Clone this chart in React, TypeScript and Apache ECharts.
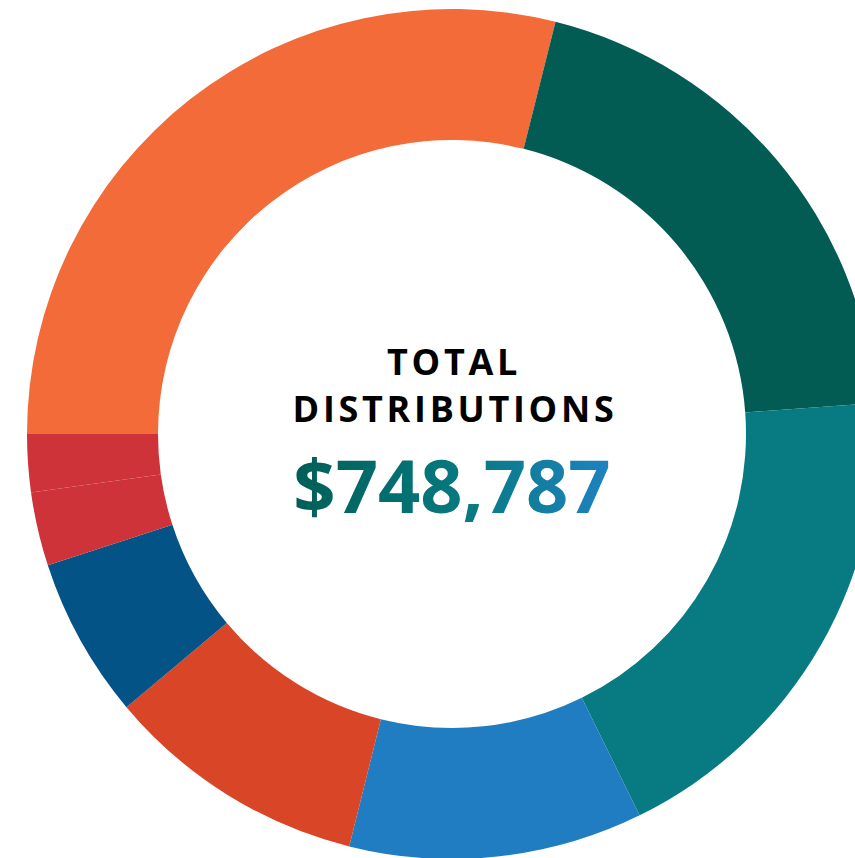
import React, { useEffect, useRef } from "react";
import * as echarts from "echarts";

const categories = ["Orange", "Dark Teal", "Teal", "Blue", "Red Orange", "Dark Blue", "Red A", "Red B"];
const values = [216524, 149133, 141437, 83614, 74879, 45759, 21008, 16432];
const colors = ["#F26B38", "#025C53", "#077A82", "#217DC1", "#D84527", "#035387", "#CE3339", "#CE3339"];
const titleLines = ["TOTAL", "DISTRIBUTIONS"];
const totalLabel = "$748,787";

let gradTextType: string | null = null;
try {
  const probe: any = new (echarts.graphic.Text as any)({ style: { text: "x", font: "12px sans-serif" } });
  probe.update();
  const kids = probe.childrenRef ? probe.childrenRef() : probe._children;
  if (kids && kids[0] && kids[0].constructor) {
    echarts.graphic.registerShape("tspan", kids[0].constructor);
    gradTextType = "tspan";
  }
} catch (e) {
  gradTextType = null;
}

export default function App() {
  const ref = useRef<HTMLDivElement>(null);
  useEffect(() => {
    if (!ref.current) return;
    const chart = echarts.init(ref.current, null, { renderer: "svg" });
    const cx = 452;
    const cy = 434;
    const titleFont = "bold 36px 'Open Sans';letter-spacing:3.7px";
    const numFont = "bold 74px 'Open Sans'";
    const grad = new echarts.graphic.LinearGradient(0, 0, 1, 0, [
      { offset: 0, color: "#005F55" },
      { offset: 0.55, color: "#077A82" },
      { offset: 1, color: "#1E82C0" },
    ]);
    const base: any = {
      animation: false,
      series: [
        {
          type: "pie",
          center: [cx, cy],
          radius: [294, 425],
          startAngle: 180,
          clockwise: true,
          label: { show: false },
          labelLine: { show: false },
          silent: true,
          itemStyle: { borderWidth: 0 },
          data: categories.map((c, i) => ({ name: c, value: values[i], itemStyle: { color: colors[i] } })),
        },
      ],
    };
    const titleGraphics = [
      {
        type: "text",
        x: 454,
        y: 361,
        style: { text: titleLines[0], fill: "#000", font: titleFont, textAlign: "center", textVerticalAlign: "middle" },
      },
      {
        type: "text",
        x: 455,
        y: 408,
        style: { text: titleLines[1], fill: "#000", font: titleFont, textAlign: "center", textVerticalAlign: "middle" },
      },
    ];
    const fallbackNum = {
      type: "text",
      x: 452,
      y: 484,
      style: { text: totalLabel, fill: "#077A82", font: numFont, textAlign: "center", textVerticalAlign: "middle" },
    };
    let ok = false;
    if (gradTextType) {
      try {
        chart.setOption({
          ...base,
          graphic: [
            ...titleGraphics,
            {
              type: gradTextType,
              x: 452,
              y: 484,
              style: {
                legacy: false,
                x: 0,
                y: 0,
                text: totalLabel,
                font: numFont,
                textAlign: "center",
                textBaseline: "middle",
                fill: grad,
              },
            },
          ],
        });
        ok = true;
      } catch (e) {
        ok = false;
      }
    }
    if (!ok) {
      chart.clear();
      chart.setOption({ ...base, graphic: [...titleGraphics, fallbackNum] }, true);
    }
    return () => chart.dispose();
  }, []);
  return <div ref={ref} style={{ position: "absolute", left: 0, top: 0, width: 855, height: 858 }} />;
}
